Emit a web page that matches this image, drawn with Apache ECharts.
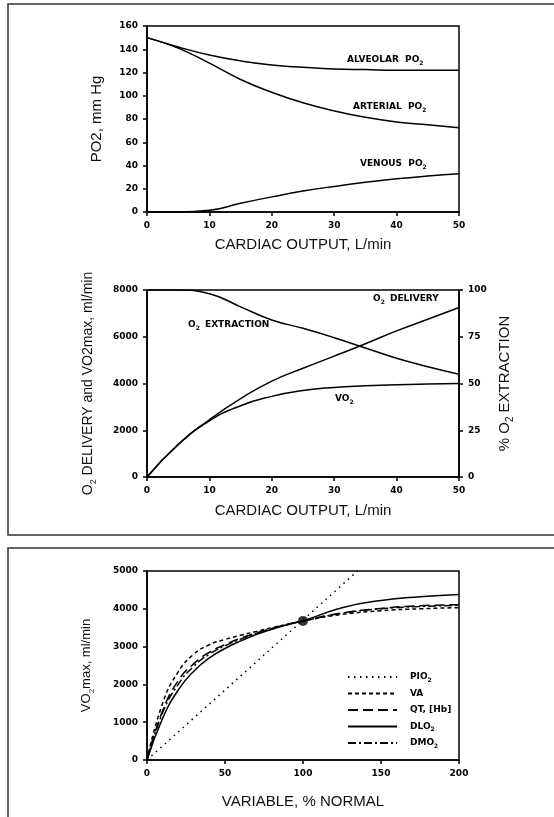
<!DOCTYPE html>
<html>
<head>
<meta charset="utf-8">
<script src="https://cdn.jsdelivr.net/npm/echarts@6/dist/echarts.min.js"></script>
<style>
  html, body { margin: 0; padding: 0; background: #fff; }
  #main { width: 554px; height: 817px; }
</style>
</head>
<body>
<div id="main"></div>
<script>
const chart = echarts.init(document.getElementById('main'))

// top panel: PO2 vs cardiac output
const cardiacOutput = [0, 5, 10, 15, 20, 25, 30, 35, 40, 45, 50]
const alveolarPO2 = [150, 142, 135, 130, 126.5, 124.5, 123, 122.5, 122, 122, 122]
const arterialPO2 = [150, 141, 128, 114, 103, 94, 87, 81.5, 77.5, 75, 72.5]
const venousPO2 = [0, 0, 1.5, 7.5, 13, 18, 22, 25.5, 28.5, 31, 33]

// middle panel: O2 delivery, VO2 and extraction
const o2Delivery = [0, 1400, 2450, 3350, 4100, 4650, 5170, 5700, 6250, 6750, 7250]
const vo2 = [0, 1380, 2400, 3050, 3450, 3700, 3830, 3900, 3950, 3980, 4000]
const o2Extraction = [100, 100, 98, 91, 84, 79.5, 74.5, 69, 63.5, 59, 55]

// bottom panel: VO2max vs variable (% normal)
const variablePct = [0, 10, 20, 30, 40, 50, 60, 70, 80, 90, 100, 125, 150, 175, 200]
const pio2X = [0, 135]
const pio2Y = [0, 5000]
const vaY = [0, 1500, 2330, 2800, 3050, 3190, 3300, 3400, 3500, 3590, 3680, 3850, 3950, 4000, 4030]
const qtY = [0, 1300, 2100, 2550, 2850, 3050, 3220, 3360, 3480, 3590, 3680, 3890, 4010, 4080, 4110]
const dlo2Y = [0, 1100, 1850, 2350, 2700, 2950, 3150, 3320, 3460, 3580, 3680, 4030, 4220, 4320, 4380]
const dmo2Y = [0, 1250, 2000, 2480, 2800, 3020, 3200, 3350, 3470, 3580, 3680, 3880, 4000, 4060, 4090]
const normalPoint = [[100, 3680]]

const legendNames = ['PIO2', 'VA', 'QT, [Hb]', 'DLO2', 'DMO2']

function pairs(xs, ys) {
    return xs.map(function (x, i) { return [x, ys[i]] })
}

const tickFont = { color: '#000', fontSize: 9, fontWeight: 'bold', fontFamily: 'DejaVu Sans', margin: 9,
    formatter: function (v) { return String(v) } }
const nameFont = { color: '#111', fontSize: 15, fontFamily: 'Liberation Sans' }
const axisLine = { lineStyle: { color: '#000', width: 1.5 } }
const axisTick = { length: 4, lineStyle: { color: '#000', width: 1.5 } }
const sub = { fontFamily: 'Liberation Sans', color: '#111', verticalAlign: 'bottom', lineHeight: 20 }

function xAxis(grid, max, interval, name, gap) {
    return {
        type: 'value', gridIndex: grid, min: 0, max: max, interval: interval,
        name: name, nameLocation: 'middle', nameGap: gap, nameTextStyle: nameFont,
        axisLine: axisLine, axisTick: axisTick, axisLabel: tickFont, splitLine: { show: false }
    }
}

function yAxis(grid, max, interval, name, gap, size, pos) {
    return {
        type: 'value', gridIndex: grid, min: 0, max: max, interval: interval, position: pos || 'left',
        name: name, nameLocation: 'middle', nameGap: gap,
        nameTextStyle: Object.assign({}, nameFont, { fontSize: size, rich: {
            s: Object.assign({}, sub, { fontSize: size - 5 }),
            n: { fontSize: size, fontFamily: 'Liberation Sans', color: '#111', lineHeight: 20 } } }),
        axisLine: Object.assign({ show: true }, axisLine), axisTick: axisTick, axisLabel: tickFont, splitLine: { show: false }
    }
}

function line(name, x, y, data, type, smooth) {
    return {
        name: name, type: 'line', xAxisIndex: x, yAxisIndex: y, data: data,
        symbol: 'none', smooth: smooth === undefined ? 0.5 : smooth, silent: true,
        lineStyle: { color: '#000', width: 1.5, type: type || 'solid' }, itemStyle: { color: '#000' }
    }
}

function label(x, y, main, subText) {
    return {
        type: 'text', left: x, top: y - 7,
        style: {
            text: '{b|' + main + '}' + (subText ? '{s|' + subText + '}' : ''),
            rich: {
                b: { fontSize: 9, fontWeight: 'bold', fontFamily: 'DejaVu Sans', fill: '#000', lineHeight: 14 },
                s: { fontSize: 6, fontWeight: 'bold', fontFamily: 'DejaVu Sans', fill: '#000', lineHeight: 14, verticalAlign: 'bottom' }
            }
        }
    }
}

const gridBox = { show: true, borderColor: '#000', borderWidth: 1.5, backgroundColor: 'transparent' }

chart.setOption({
    animation: false,
    backgroundColor: '#fff',
    grid: [
        Object.assign({ left: 147, top: 26, width: 312, height: 186 }, gridBox),
        Object.assign({ left: 147, top: 290, width: 312, height: 187 }, gridBox),
        Object.assign({ left: 147, top: 571, width: 312, height: 189 }, gridBox)
    ],
    xAxis: [
        xAxis(0, 50, 10, 'CARDIAC OUTPUT, L/min', 25),
        xAxis(1, 50, 10, 'CARDIAC OUTPUT, L/min', 26),
        xAxis(2, 200, 50, 'VARIABLE, % NORMAL', 34)
    ],
    yAxis: [
        yAxis(0, 160, 20, '{n|PO2, mm Hg}', 40, 15),
        yAxis(1, 8000, 2000, '{n|O}{s|2}{n| DELIVERY and VO2max, ml/min}', 49, 14),
        yAxis(1, 100, 25, '{n|% O}{s|2}{n| EXTRACTION}', 35, 15, 'right'),
        yAxis(2, 5000, 1000, '{n|VO}{s|2}{n|max, ml/min}', 51, 13)
    ],
    legend: {
        left: 342, top: 666, orient: 'vertical', itemWidth: 49, itemHeight: 10, itemGap: 4.5,
        data: legendNames,
        itemStyle: { opacity: 0, borderWidth: 0 },
        formatter: function (n) {
            if (/O2$/.test(n)) return '{g|}{b|' + n.slice(0, -1) + '}{s|2}'
            return '{g|}{b|' + n + '}'
        },
        textStyle: {
            rich: {
                g: { width: 8 },
                b: { fontSize: 9, fontWeight: 'bold', fontFamily: 'DejaVu Sans', color: '#000', lineHeight: 12 },
                s: { fontSize: 6, fontWeight: 'bold', fontFamily: 'DejaVu Sans', color: '#000', lineHeight: 12, verticalAlign: 'bottom' }
            }
        }
    },
    series: [
        line('alveolar', 0, 0, pairs(cardiacOutput, alveolarPO2)),
        line('arterial', 0, 0, pairs(cardiacOutput, arterialPO2)),
        line('venous', 0, 0, pairs(cardiacOutput, venousPO2)),
        line('delivery', 1, 1, pairs(cardiacOutput, o2Delivery)),
        line('vo2', 1, 1, pairs(cardiacOutput, vo2)),
        line('extraction', 1, 2, pairs(cardiacOutput, o2Extraction)),
        line('PIO2', 2, 3, pairs(pio2X, pio2Y), [1.5, 4.5], false),
        line('VA', 2, 3, pairs(variablePct, vaY), [4, 3]),
        line('QT, [Hb]', 2, 3, pairs(variablePct, qtY), [10, 5]),
        line('DLO2', 2, 3, pairs(variablePct, dlo2Y), 'solid'),
        line('DMO2', 2, 3, pairs(variablePct, dmo2Y), [8, 3, 2, 3]),
        {
            type: 'scatter', xAxisIndex: 2, yAxisIndex: 3, data: normalPoint,
            symbolSize: 10, itemStyle: { color: '#000' }, silent: true
        }
    ],
    graphic: [
        { type: 'rect', shape: { x: 8, y: 4, width: 600, height: 531 }, style: { fill: 'none', stroke: '#333', lineWidth: 1.5 } },
        { type: 'rect', shape: { x: 8, y: 548, width: 600, height: 300 }, style: { fill: 'none', stroke: '#333', lineWidth: 1.5 } },
        label(347, 62, 'ALVEOLAR  PO', '2'),
        label(353, 109, 'ARTERIAL  PO', '2'),
        label(360, 166, 'VENOUS  PO', '2'),
        label(373, 301, 'O', '2'),
        label(390, 301, 'DELIVERY'),
        label(188, 327, 'O', '2'),
        label(205, 327, 'EXTRACTION'),
        label(335, 401, 'VO', '2')
    ]
})
</script>
</body>
</html>
